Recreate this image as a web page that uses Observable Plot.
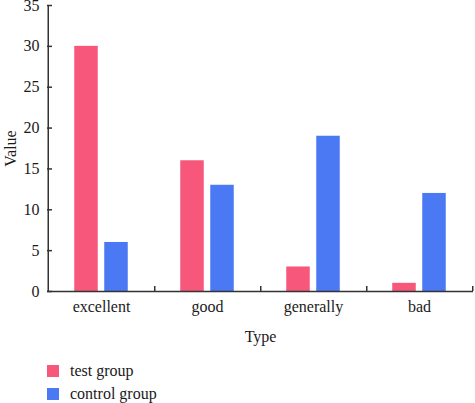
<!DOCTYPE html>
<html>
<head>
<meta charset="utf-8">
<script src="https://cdn.jsdelivr.net/npm/d3@7"></script>
<script src="https://cdn.jsdelivr.net/npm/@observablehq/plot@0.6"></script>
<style>
  html, body { margin: 0; padding: 0; background: #fff; }
  #wrap { position: relative; width: 475px; height: 403px; font-family: "Liberation Serif", serif; color: #1a1a1a; }
  #legend { position: absolute; left: 47px; top: 359px; font-size: 16px; }
  .item { display: flex; align-items: center; height: 23px; }
  .sw { width: 12px; height: 12px; margin-right: 11px; }
</style>
</head>
<body>
<div id="wrap">
  <div id="chart"></div>
  <div id="legend"></div>
</div>
<script>
const categories = ["excellent", "good", "generally", "bad"];
const groups = ["test group", "control group"];
const testValues = [30, 16, 3, 1];
const controlValues = [6, 13, 19, 12];
const yTicks = [0, 5, 10, 15, 20, 25, 30, 35];
const colors = ["#f6577a", "#4b78f3"];

const rows = [];
categories.forEach((c, i) => {
  rows.push({type: c, group: groups[0], value: testValues[i]});
  rows.push({type: c, group: groups[1], value: controlValues[i]});
});

const W = 475, H = 350, ML = 47, MR = 2, MT = 5, MB = 59;
const step = (W - ML - MR) / categories.length;
const barW = 24, gap = 6;
const outer = (step - 2 * barW - gap) / 2;
const axisColor = "#333";
const FS = 16;

const chart = Plot.plot({
  width: W, height: H,
  marginLeft: ML, marginRight: MR, marginTop: MT, marginBottom: MB,
  style: {fontFamily: "Liberation Serif, serif", fontSize: FS + "px", color: "#1a1a1a", background: "#fff", overflow: "visible"},
  x: {domain: categories, padding: 0},
  y: {domain: [0, 35]},
  color: {domain: groups, range: colors},
  marks: [
    Plot.barY(rows.filter(d => d.group === groups[0]), {x: "type", y: "value", fill: "group", insetLeft: outer, insetRight: outer + barW + gap}),
    Plot.barY(rows.filter(d => d.group === groups[1]), {x: "type", y: "value", fill: "group", insetLeft: outer + barW + gap, insetRight: outer}),
    Plot.ruleY([0], {stroke: axisColor, strokeWidth: 1.5}),
    Plot.ruleX([categories[0]], {dx: -step / 2, y1: 0, y2: 35, stroke: axisColor, strokeWidth: 1.5}),
    Plot.ruleX(categories, {dx: step / 2, y1: 0, y2: 0.6, stroke: axisColor, strokeWidth: 1.5}),
    Plot.axisY(yTicks, {tickSize: -5, tickPadding: 13, stroke: axisColor, strokeWidth: 1.5, fontSize: FS, label: "Value", labelAnchor: "center", labelOffset: 43, labelArrow: "none"}),
    Plot.axisX({tickSize: 0, tickPadding: 9, fontSize: FS, label: "Type", labelAnchor: "center", labelOffset: 50, labelArrow: "none"})
  ]
});
document.getElementById("chart").appendChild(chart);

const legend = document.getElementById("legend");
groups.forEach((g, i) => {
  const item = document.createElement("div");
  item.className = "item";
  const sw = document.createElement("div");
  sw.className = "sw";
  sw.style.background = colors[i];
  const t = document.createElement("span");
  t.textContent = g;
  item.appendChild(sw);
  item.appendChild(t);
  legend.appendChild(item);
});
</script>
</body>
</html>
